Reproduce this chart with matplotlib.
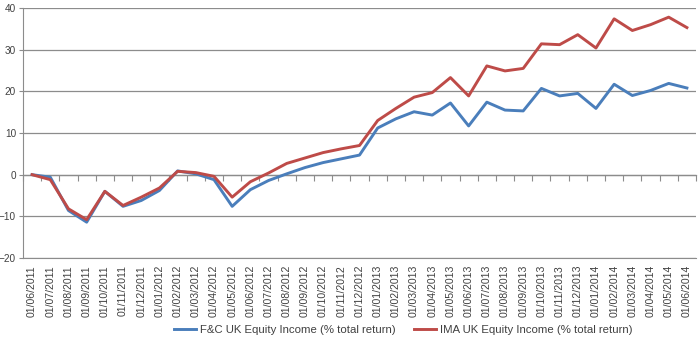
import matplotlib
matplotlib.use('Agg')
import matplotlib.pyplot as plt

# ── Data ──────────────────────────────────────────────────────────────────────
dates = [f'01/{m:02d}/{y}' for y, m in
         [(2011, m) for m in range(6, 13)] +
         [(2012, m) for m in range(1, 13)] +
         [(2013, m) for m in range(1, 13)] +
         [(2014, m) for m in range(1, 7)]]

fc_income = [0.0, -0.6, -8.6, -11.4, -4.0, -7.6, -6.2, -3.8, 0.9, 0.2,
             -1.2, -7.6, -3.6, -1.4, 0.2, 1.7, 2.9, 3.8, 4.7, 11.2,
             13.4, 15.1, 14.3, 17.2, 11.7, 17.4, 15.5, 15.3, 20.7, 18.9,
             19.5, 15.9, 21.7, 19.0, 20.2, 21.9, 20.8]

ima_income = [0.0, -1.2, -8.2, -10.8, -4.0, -7.4, -5.4, -3.2, 0.8, 0.5,
              -0.4, -5.4, -1.7, 0.4, 2.7, 4.0, 5.3, 6.2, 7.0, 13.0,
              15.9, 18.6, 19.7, 23.3, 18.9, 26.1, 24.9, 25.5, 31.4, 31.2,
              33.6, 30.4, 37.4, 34.6, 36.0, 37.8, 35.3]

yticks = [-20, -10, 0, 10, 20, 30, 40]

BLUE = '#4a7ebb'
RED = '#be4b48'
GRID = '#8c8c8c'
TEXT = '#404040'

plt.rcParams['font.family'] = ['Liberation Sans', 'DejaVu Sans']

# ── Figure ────────────────────────────────────────────────────────────────────
fig = plt.figure(figsize=(7.0, 3.43), dpi=100)
ax = fig.add_axes([23 / 700, 1 - 258 / 343, 673 / 700, 250 / 343])

x = list(range(len(dates)))
ax.plot(x, fc_income, color=BLUE, lw=2.1, label='F&C UK Equity Income (% total return)')
ax.plot(x, ima_income, color=RED, lw=2.1, label='IMA UK Equity Income (% total return)')

ax.set_xlim(-0.5, len(dates) - 0.5)
ax.set_ylim(-20, 40)
ax.set_yticks(yticks)
ax.yaxis.grid(True, color=GRID, lw=0.9)
ax.set_axisbelow(True)

for side in ['top', 'right']:
    ax.spines[side].set_visible(False)
ax.spines['left'].set_color(GRID)
ax.spines['bottom'].set_color(GRID)

ax.tick_params(axis='y', colors=GRID, length=3, width=0.8, labelcolor=TEXT,
               labelsize=7.2, pad=2)
ax.set_xticks(x)
ax.set_xticklabels(dates, rotation=90, fontsize=7.6, color=TEXT)
ax.tick_params(axis='x', length=0, pad=5)

# category axis line at zero with tick marks between categories
sec = ax.secondary_xaxis(20 / 60)
sec.set_xticks([i - 0.5 for i in range(len(dates) + 1)])
sec.set_xticklabels([])
sec.tick_params(axis='x', direction='out', length=4, width=0.8, colors=GRID)
sec.spines['bottom'].set_color(GRID)
sec.spines['bottom'].set_linewidth(0.9)

fig.legend(loc='center', bbox_to_anchor=(403 / 700, 13 / 343), ncol=2,
           frameon=False, fontsize=8.2, handlelength=2.0, handletextpad=0.3,
           columnspacing=1.6, labelcolor=TEXT)

fig.savefig('out.png', dpi=100)
